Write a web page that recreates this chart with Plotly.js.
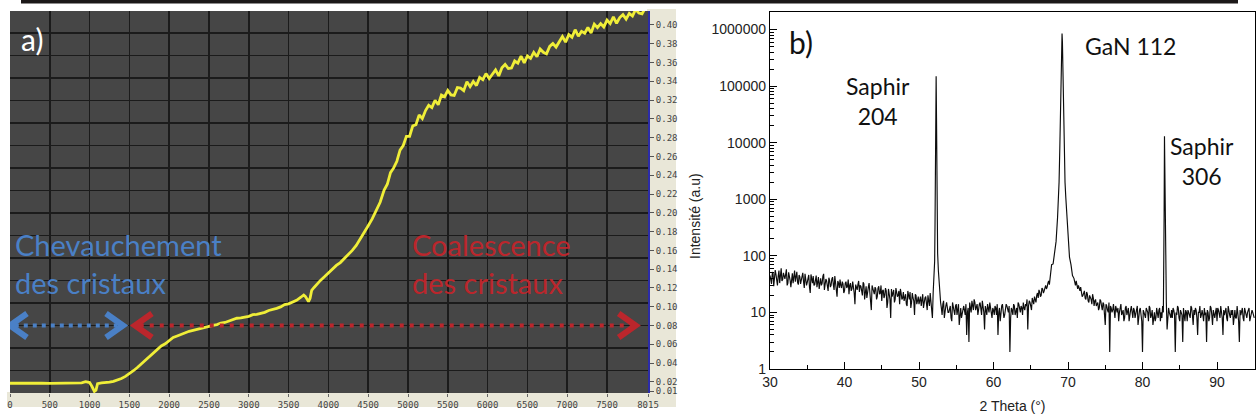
<!DOCTYPE html>
<html>
<head>
<meta charset="utf-8">
<script src="https://cdn.plot.ly/plotly-3.0.1.min.js"></script>
<style>html,body{margin:0;padding:0;background:#fff;}#chart{width:1256px;height:419px;}</style>
</head>
<body>
<div id="chart"></div>
<script>
// ---------- Panel a) : in-situ signal vs time ----------
const timeTicks = [0,500,1000,1500,2000,2500,3000,3500,4000,4500,5000,5500,6000,6500,7000,7500,8015];
const signalTicks = [0.01,0.02,0.04,0.06,0.08,0.10,0.12,0.14,0.16,0.18,0.20,0.22,0.24,0.26,0.28,0.30,0.32,0.34,0.36,0.38,0.40];

const signalTime = [
  0,100,200,300,400,500,600,700,800,900,950,1000,1030,1060,1080,1100,1150,1200,1250,1300,
  1350,1400,1450,1500,1550,1600,1650,1700,1750,1800,1850,1900,1950,2000,2050,2100,2150,2200,2250,2300,
  2350,2400,2450,2500,2550,2600,2650,2700,2750,2800,2850,2900,2950,3000,3050,3100,3150,3200,3250,3300,
  3350,3400,3450,3500,3550,3600,3650,3690,3710,3730,3750,3770,3790,3820,3850,3900,3950,4000,4050,4100,
  4150,4200,4250,4300,4350,4400,4450,4500,4550,4600,4650,
  4700,4740,4780,4820,4860,4900,4940,4980,5020,5060,5100,5140,5180,5220,5260,5300,5340,5380,5420,5460,
  5500,5540,5580,5620,5660,5700,5740,5780,5820,5860,5900,5940,5980,6020,6060,6100,6140,6180,6220,6260,
  6300,6340,6380,6420,6460,6500,6540,6580,6620,6660,6700,6740,6780,6820,6860,6900,6940,6980,7020,7060,
  7100,7140,7180,7220,7260,7300,7340,7380,7420,7460,7500,7540,7580,7620,7660,7700,7740,7780,7820,7860,
  7900,7940,7980,8015
];
const signalValue = [
  .0185,.0187,.0184,.0183,.0185,.0183,.0185,.0184,.0186,.0189,.0201,.0192,.0150,.0098,.0112,.0180,.0189,.0191,.0196,.0205,
  .0218,.0236,.0258,.0286,.0318,.0352,.0392,.0428,.0468,.0508,.0548,.0582,.0605,.0643,.0672,.0688,.0706,.0719,.0738,.0748,
  .0760,.0768,.0784,.0790,.0801,.0810,.0826,.0832,.0845,.0858,.0877,.0880,.0889,.0897,.0915,.0918,.0930,.0940,.0960,.0968,
  .0982,.0998,.1022,.1030,.1050,.1068,.1098,.1125,.1110,.1075,.1055,.1090,.1175,.1205,.1238,.1280,.1318,.1362,.1398,.1440,
  .1470,.1512,.1552,.1600,.1652,.1718,.1785,.1862,.1935,.2018,.2112,
  .2242,.2304,.2427,.2478,.2549,.2667,.2716,.2814,.2815,.2926,.2938,.3043,.3003,.3089,.3145,.3121,.3199,.3151,.3254,.3236,
  .3303,.3256,.3250,.3333,.3327,.3301,.3397,.3343,.3399,.3355,.3441,.3417,.3483,.3429,.3476,.3522,.3458,.3544,.3580,.3536,
  .3542,.3618,.3594,.3670,.3597,.3671,.3645,.3708,.3662,.3745,.3709,.3692,.3772,.3803,.3765,.3826,.3877,.3818,.3898,.3869,
  .3950,.3881,.3932,.3912,.3973,.3915,.4009,.3972,.4015,.3978,.4052,.4015,.4086,.4018,.4079,.4110,.4062,.4123,.4095,.4166,
  .4127,.4119,.4180,.4170
];
const overlapRange = [0, 1420];        // "Chevauchement des cristaux"
const coalescenceRange = [1570, 7860]; // "Coalescence des cristaux"
const arrowLevel = 0.08;

// ---------- Panel b) : XRD 2theta scan ----------
const twoThetaTicks = [30,40,50,60,70,80,90];
const intensityTicks = [1,10,100,1000,10000,100000,1000000];
const xrdStep = 0.2;
const xrdStartEven = 30.0;   // samples at 30.0, 30.2, ...
const xrdCountsEven = [
  45,32,52,38,47,30,55,41,36,50,
  39,58,33,44,28,49,40,35,52,31,
  43,36,50,27,41,34,46,22,38,44,
  31,45,35,26,40,33,48,29,36,24,
  37,30,42,25,34,19,33,38,27,32,
  24,35,29,21,33,26,30,14,28,31,
  23,29,20,32,25,18,28,24,11,27,
  21,26,19,29,22,16,25,20,24,15,
  22,8,19,25,17,23,20,14,22,18,
  16,21,13,19,23,15,18,9,20,16,
  14,19,17,12,18,15,20,13,16,12,
  15,18,20,16,14,12,14,8,13,11,
  10,13,7,12,9,14,11,6,12,10,
  13,9,4,12,15,10,13,17,11,14,
  12,15,9,13,5,11,14,10,12,8,
  11,13,9,4,12,10,14,8,11,13,
  10,2,12,9,13,11,8,14,10,12,
  15,11,13,5,16,12,18,14,17,20,
  18,23,20,26,24,30,28,36,42,55,
  70,100,150,300,2000,9000,3000,900,300,150,
  120,80,60,45,38,32,28,30,24,22,
  20,24,17,21,15,19,14,18,16,13,
  15,12,16,11,14,6,13,10,2,12,
  11,9,13,10,7,12,9,11,8,13,
  10,7,11,9,12,8,10,6,11,9,
  2,10,8,11,7,12,9,6,10,8,
  9,11,7,10,12,14,9,3,10,8,
  8,11,2,9,12,7,10,3,9,11,
  7,10,8,12,6,9,11,4,10,8,
  11,7,9,3,10,8,12,6,9,10,
  7,11,8,10,4,9,12,7,10,8,
  9,6,11,8,10,3,9,12,7,10,
  8,11,7,9,10,8
];
const xrdStartOdd = 30.1;    // samples at 30.1, 30.3, ...
const xrdCountsOdd = [
  36,48,29,56,40,44,33,60,38,42,
  47,30,51,37,45,33,55,43,34,46,
  32,45,35,48,30,39,28,47,33,30,
  40,28,42,37,30,44,25,39,31,41,
  28,39,31,44,23,36,27,30,35,22,
  33,27,38,30,24,35,22,31,25,36,
  30,21,34,17,29,26,33,20,30,22,
  28,17,27,21,30,24,18,27,12,26,
  17,26,21,15,27,19,24,26,17,23,
  20,14,24,17,12,22,16,21,14,19,
  18,13,21,16,19,11,17,22,15,19,
  17,12,16,11,18,9,16,12,15,10,
  12,8,15,11,13,9,14,10,8,13,
  11,14,10,3,12,16,11,15,12,9,
  14,11,16,10,13,9,12,15,9,12,
  9,12,14,10,7,13,11,9,14,10,
  13,8,11,14,9,12,15,11,13,9,
  12,14,17,13,15,11,16,19,15,22,
  25,19,27,22,29,26,33,31,47,50,
  90,120,200,900,5000,7000,1500,400,200,130,
  100,70,52,48,35,36,26,27,28,19,
  22,18,23,16,20,17,21,13,17,15,
  11,17,13,15,9,14,11,15,13,10,
  14,8,11,12,10,14,10,7,12,9,
  12,10,13,8,11,10,13,9,12,7,
  11,9,12,10,13,8,11,10,7,12,
  8,12,10,9,11,13,5,12,9,11,
  12,9,10,13,8,11,9,12,7,10,
  11,8,13,9,11,12,8,10,13,9,
  9,12,10,11,7,13,9,11,8,12,
  12,9,13,8,11,10,8,13,9,11,
  11,9,8,13,7,11,10,8,12,9,
  10,12,8,11,9
];
const saphir204Theta  = [51.7,51.8,51.9,52.0,52.1,52.15,52.2,52.25,52.3,52.35,52.4,52.45,52.5,52.6,52.7,52.8,52.9];
const saphir204Counts = [13,8,22,35,80,350,2500,35000,150000,28000,2200,320,110,55,32,20,15];
const gan112Theta  = [67.6,67.8,68.0,68.2,68.4,68.6,68.7,68.8,68.9,69.0,69.05,69.1,69.15,69.2,69.25,69.3,69.35,69.4,69.5,69.6,69.7,69.8,69.9,70.0,70.1,70.2,70.4,70.6,70.8,71.0];
const gan112Counts = [40,70,72,130,180,480,900,2000,8000,50000,150000,420000,720000,850000,600000,250000,80000,20000,6000,2000,1100,600,320,200,130,95,70,45,40,30];
const saphir306Theta  = [82.6,82.7,82.8,82.85,82.9,82.95,83.0,83.05,83.1,83.2,83.3,83.4];
const saphir306Counts = [8,13,10,30,500,13000,2000,120,35,15,5,12];

// merge the two interleaved background scans with the finer peak samples
const peaks = [[saphir204Theta,saphir204Counts],[gan112Theta,gan112Counts],[saphir306Theta,saphir306Counts]];
const pts = [];
[[xrdStartEven, xrdCountsEven],[xrdStartOdd, xrdCountsOdd]].forEach(([start, counts]) => {
  counts.forEach((c,i)=>{
    const t = +(start + i*xrdStep).toFixed(2);
    if(!peaks.some(([th]) => t >= th[0]-1e-9 && t <= th[th.length-1]+1e-9)) pts.push([t,c]);
  });
});
peaks.forEach(([th,cn]) => th.forEach((t,i) => pts.push([t,cn[i]])));
pts.sort((a,b)=>a[0]-b[0]);
const xrdTheta = pts.map(p=>p[0]);
const xrdCounts = pts.map(p=>p[1]);

// ---------- layout helpers ----------
const W = 1256, H = 419;
const px = v => v / W;
const py = v => 1 - v / H;
const mono = {family:'"DejaVu Sans Mono", monospace', size:9, color:'#444'};
const arial = {family:'Arial, "Liberation Sans", sans-serif', size:14, color:'#222'};
const BLUE = '#4a80c6', RED = '#bb262c';

function chevron(xData, dir, color){
  const d = dir < 0 ? 'M 17 12 L 0 0 L 17 -12' : 'M -17 12 L 0 0 L -17 -12';
  return {type:'path', xref:'x', yref:'y', xsizemode:'pixel', ysizemode:'pixel',
          xanchor:xData, yanchor:arrowLevel, path:d,
          line:{color:color, width:6}, fillcolor:'rgba(0,0,0,0)', layer:'above'};
}

const traces = [
  {x:[], y:[], xaxis:'x', yaxis:'y3', mode:'lines', hoverinfo:'skip', showlegend:false},
  {x:signalTime, y:signalValue, xaxis:'x', yaxis:'y', mode:'lines',
   line:{color:'#f0ee38', width:2.8}, hoverinfo:'skip', showlegend:false},
  {x:xrdTheta, y:xrdCounts, xaxis:'x2', yaxis:'y2', mode:'lines',
   line:{color:'#0c0c0c', width:1.15}, hoverinfo:'skip', showlegend:false}
];

const layout = {
  width:W, height:H, margin:{l:0,r:0,t:0,b:0},
  paper_bgcolor:'#ffffff', plot_bgcolor:'rgba(0,0,0,0)', showlegend:false,
  xaxis:{domain:[px(10),px(648)], range:[0,8015], anchor:'y',
    tickvals:timeTicks, ticktext:timeTicks.map(String), tickangle:0,
    ticks:'outside', ticklen:3, tickcolor:'#666', tickfont:mono,
    showgrid:true, gridcolor:'#1b1b1b', gridwidth:1.5, zeroline:false, showline:false, fixedrange:true},
  yaxis:{domain:[py(393),py(11)], range:[0.0081,0.4149], anchor:'x', side:'right',
    tickvals:signalTicks, ticktext:signalTicks.map(v=>v.toFixed(2)),
    ticks:'outside', ticklen:4, tickcolor:'#555', tickfont:mono,
    showgrid:false, zeroline:false, showline:true, linecolor:'#2c2ca8', linewidth:2, fixedrange:true},
  yaxis3:{overlaying:'y', anchor:'x', side:'left', range:[0,16.98],
    tickvals:[1,2,3,4,5,6,7,8,9,10,11,12,13,14,15,16], showticklabels:false, ticks:'',
    showgrid:true, gridcolor:'#1b1b1b', gridwidth:1.5, zeroline:false, showline:false, fixedrange:true},
  xaxis2:{domain:[px(770),px(1255)], range:[30,95.1], anchor:'y2',
    tickvals:twoThetaTicks, ticktext:twoThetaTicks.map(String),
    ticks:'inside', ticklen:7, tickcolor:'#000', tickwidth:1,
    minor:{dtick:5, tick0:30, ticks:'inside', ticklen:4, tickcolor:'#000', showgrid:false},
    tickfont:arial, showgrid:false, zeroline:false,
    showline:true, linecolor:'#000', linewidth:1.2, mirror:true,
    title:{text:'2 Theta (°)', font:arial, standoff:12}},
  yaxis2:{domain:[py(369),py(12)], type:'log', range:[0,6.31], anchor:'x2',
    tickvals:intensityTicks, ticktext:intensityTicks.map(String),
    ticks:'inside', ticklen:7, tickcolor:'#000', tickwidth:1,
    minor:{dtick:'D1', ticks:'inside', ticklen:4, tickcolor:'#000', showgrid:false},
    tickfont:arial, showgrid:false, zeroline:false,
    showline:true, linecolor:'#000', linewidth:1.2, mirror:true},
  shapes:[
    {type:'rect', xref:'paper', yref:'paper', x0:px(21), x1:px(1238), y0:py(0), y1:py(3.5),
     fillcolor:'#1c1818', line:{width:0}, layer:'below'},
    {type:'rect', xref:'paper', yref:'paper', x0:px(647), x1:px(676), y0:py(9), y1:py(407),
     fillcolor:'#e9e7d8', line:{width:0}, layer:'below'},
    {type:'rect', xref:'paper', yref:'paper', x0:px(7), x1:px(676), y0:py(392), y1:py(407),
     fillcolor:'#e9e7d8', line:{width:0}, layer:'below'},
    {type:'rect', xref:'paper', yref:'paper', x0:px(10), x1:px(648), y0:py(11), y1:py(393),
     fillcolor:'#464646', line:{width:0}, layer:'below'},
    {type:'line', xref:'x', yref:'y', x0:overlapRange[0]+60, x1:overlapRange[1]-60, y0:arrowLevel, y1:arrowLevel,
     line:{color:BLUE, width:4, dash:'4px,5px'}},
    chevron(overlapRange[0], -1, BLUE),
    chevron(overlapRange[1], 1, BLUE),
    {type:'line', xref:'x', yref:'y', x0:coalescenceRange[0]+60, x1:coalescenceRange[1]-60, y0:arrowLevel, y1:arrowLevel,
     line:{color:RED, width:4, dash:'4px,6px'}},
    chevron(coalescenceRange[0], -1, RED),
    chevron(coalescenceRange[1], 1, RED)
  ],
  annotations:[
    {text:'a)', xref:'paper', yref:'paper', x:px(32), y:py(39), xanchor:'center', yanchor:'middle',
     showarrow:false, font:{family:'Lato, sans-serif', size:30, color:'#ffffff'}},
    {text:'Chevauchement<br>des cristaux', xref:'paper', yref:'paper', x:px(13), y:py(263),
     xanchor:'left', yanchor:'middle', align:'left', showarrow:false,
     font:{family:'Lato, sans-serif', size:29, color:BLUE}},
    {text:'Coalescence<br>des cristaux', xref:'paper', yref:'paper', x:px(410), y:py(263),
     xanchor:'left', yanchor:'middle', align:'left', showarrow:false,
     font:{family:'Lato, sans-serif', size:29, color:RED}},
    {text:'b)', xref:'paper', yref:'paper', x:px(801), y:py(42), xanchor:'center', yanchor:'middle',
     showarrow:false, font:{family:'Lato, sans-serif', size:30, color:'#111'}},
    {text:'Saphir<br>204', xref:'paper', yref:'paper', x:px(878), y:py(101), xanchor:'center', yanchor:'middle',
     showarrow:false, font:{family:'Lato, sans-serif', size:23, color:'#111'}},
    {text:'GaN 112', xref:'paper', yref:'paper', x:px(1130), y:py(46), xanchor:'center', yanchor:'middle',
     showarrow:false, font:{family:'Lato, sans-serif', size:23, color:'#111'}},
    {text:'Saphir<br>306', xref:'paper', yref:'paper', x:px(1202), y:py(161), xanchor:'center', yanchor:'middle',
     showarrow:false, font:{family:'Lato, sans-serif', size:23, color:'#111'}},
    {text:'Intensité (a.u)', xref:'paper', yref:'paper', x:px(695), y:py(216), xanchor:'center', yanchor:'middle',
     textangle:-90, showarrow:false, font:arial}
  ]
};

Plotly.newPlot('chart', traces, layout, {staticPlot:true, displayModeBar:false});
</script>
</body>
</html>
